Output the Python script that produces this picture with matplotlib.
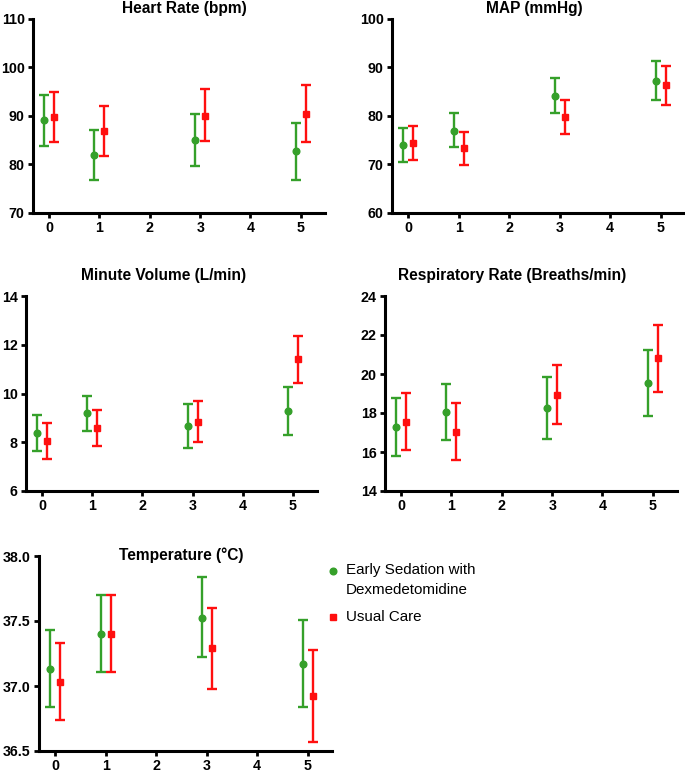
import matplotlib
matplotlib.use("Agg")
import matplotlib.pyplot as plt
import numpy as np

plt.rcParams['font.family'] = ['Liberation Sans', 'DejaVu Sans']

days = [0, 1, 3, 5]
xticks = [0, 1, 2, 3, 4, 5]

titles = ["Heart Rate (bpm)", "MAP (mmHg)", "Minute Volume (L/min)",
          "Respiratory Rate (Breaths/min)", "Temperature (°C)"]

# Early Sedation with Dexmedetomidine (green)
hr_g = [89.1, 82.0, 85.1, 82.7]
hr_g_lo = [83.9, 76.9, 79.6, 76.9]
hr_g_hi = [94.3, 87.2, 90.4, 88.6]
# Usual Care (red)
hr_r = [89.8, 87.0, 90.1, 90.5]
hr_r_lo = [84.7, 81.8, 84.8, 84.7]
hr_r_hi = [95.0, 92.1, 95.5, 96.4]

map_g = [74.0, 77.0, 84.2, 87.2]
map_g_lo = [70.5, 73.6, 80.6, 83.2]
map_g_hi = [77.6, 80.6, 87.8, 91.3]
map_r = [74.4, 73.3, 79.8, 86.3]
map_r_lo = [70.9, 69.9, 76.2, 82.3]
map_r_hi = [77.9, 76.8, 83.4, 90.3]

mv_g = [8.38, 9.18, 8.67, 9.29]
mv_g_lo = [7.64, 8.45, 7.78, 8.30]
mv_g_hi = [9.12, 9.89, 9.55, 10.27]
mv_r = [8.04, 8.58, 8.84, 11.40]
mv_r_lo = [7.30, 7.85, 8.00, 10.44]
mv_r_hi = [8.77, 9.32, 9.68, 12.36]

rr_g = [17.29, 18.04, 18.26, 19.55]
rr_g_lo = [15.78, 16.59, 16.69, 17.87]
rr_g_hi = [18.78, 19.51, 19.84, 21.24]
rr_r = [17.56, 17.05, 18.93, 20.80]
rr_r_lo = [16.09, 15.58, 17.42, 19.09]
rr_r_hi = [19.02, 18.52, 20.46, 22.49]

t_g = [37.13, 37.40, 37.52, 37.17]
t_g_lo = [36.84, 37.11, 37.22, 36.84]
t_g_hi = [37.43, 37.70, 37.84, 37.51]
t_r = [37.03, 37.40, 37.29, 36.92]
t_r_lo = [36.74, 37.11, 36.98, 36.57]
t_r_hi = [37.33, 37.70, 37.60, 37.28]

ylims = [(70, 110), (60, 100), (6, 14), (14, 24), (36.5, 38.0)]
yticks = [[70, 80, 90, 100, 110], [60, 70, 80, 90, 100], [6, 8, 10, 12, 14],
          [14, 16, 18, 20, 22, 24], [36.5, 37.0, 37.5, 38.0]]

series = [
    (hr_g, hr_g_lo, hr_g_hi, hr_r, hr_r_lo, hr_r_hi),
    (map_g, map_g_lo, map_g_hi, map_r, map_r_lo, map_r_hi),
    (mv_g, mv_g_lo, mv_g_hi, mv_r, mv_r_lo, mv_r_hi),
    (rr_g, rr_g_lo, rr_g_hi, rr_r, rr_r_lo, rr_r_hi),
    (t_g, t_g_lo, t_g_hi, t_r, t_r_lo, t_r_hi),
]

GREEN = '#35a02a'
RED = '#ff0f0f'

W, H = 685, 780
fig = plt.figure(figsize=(W / 100, H / 100), dpi=100)

# (left, right, top, bottom) in pixels
boxes = [(33, 325, 19, 213), (392, 685, 19, 213), (26, 317, 296, 491),
         (385, 677, 296, 491), (39, 332, 556, 751)]
title_xy = [(184, 9), (534, 9), (164, 275), (512, 275), (181, 555)]

def add_ax(b):
    l, r, t, bt = b
    return fig.add_axes([l / W, 1 - bt / H, (r - l) / W, (bt - t) / H])

off = 0.1
for i, (b, s) in enumerate(zip(boxes, series)):
    ax = add_ax(b)
    g, glo, ghi, r, rlo, rhi = [np.array(v) for v in s]
    xg = np.array(days) - off
    xr = np.array(days) + off
    ax.errorbar(xg, g, yerr=[g - glo, ghi - g], fmt='o', color=GREEN,
                ms=4.8, elinewidth=1.7, capsize=3.5, capthick=1.7, clip_on=False)
    ax.errorbar(xr, r, yerr=[r - rlo, rhi - r], fmt='s', color=RED,
                ms=4.8, elinewidth=1.7, capsize=3.5, capthick=1.7, clip_on=False)
    ax.set_xlim(-0.32, 5.48)
    ax.set_ylim(*ylims[i])
    ax.set_xticks(xticks)
    ax.set_yticks(yticks[i])
    if i == 4:
        ax.set_yticklabels([f"{v:.1f}" for v in yticks[i]])
    for sp in ['top', 'right']:
        ax.spines[sp].set_visible(False)
    for sp in ['left', 'bottom']:
        ax.spines[sp].set_linewidth(2.2)
    ax.tick_params(width=2.0, length=3.5, labelsize=10.3, pad=2.5)
    for lab in ax.get_xticklabels() + ax.get_yticklabels():
        lab.set_fontweight('bold')
    tx, ty = title_xy[i]
    fig.text(tx / W, 1 - ty / H, titles[i], ha='center', va='center',
             fontsize=11.2, fontweight='bold')

# Legend
lax = fig.add_axes([0, 0, 1, 1], facecolor='none')
lax.set_xlim(0, W)
lax.set_ylim(H, 0)
lax.axis('off')
lax.plot([333], [571], 'o', color=GREEN, ms=4.8)
lax.plot([333], [617], 's', color=RED, ms=4.8)
lax.text(346, 570, "Early Sedation with", va='center', ha='left', fontsize=10.9)
lax.text(346, 590, "Dexmedetomidine", va='center', ha='left', fontsize=10.9)
lax.text(346, 617, "Usual Care", va='center', ha='left', fontsize=10.9)

fig.savefig("out.png", dpi=100)
